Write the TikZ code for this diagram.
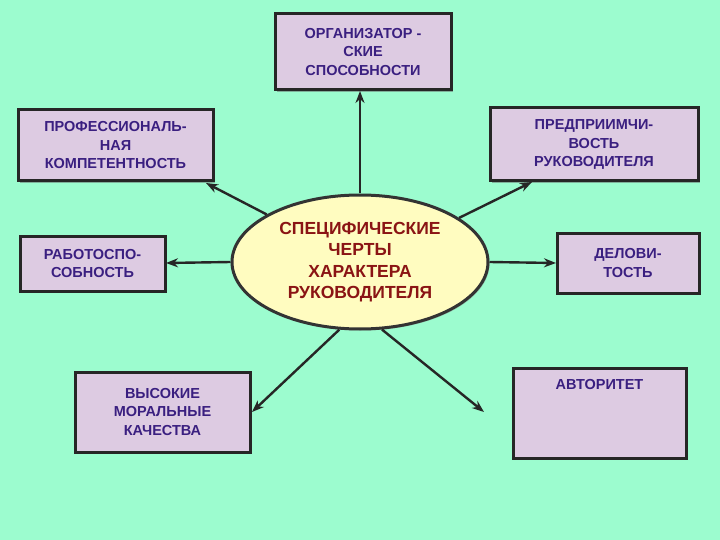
\documentclass[tikz,border=0pt]{standalone}
\usepackage{fontspec}
\setmainfont{Liberation Sans}
\usetikzlibrary{arrows.meta,shadows,shapes.geometric}
\definecolor{bg}{HTML}{9CFCCF}
\definecolor{boxf}{HTML}{DDCBE2}
\definecolor{elf}{HTML}{FFFCC0}
\definecolor{btxt}{HTML}{3A1F80}
\definecolor{etxt}{HTML}{8A1414}
\begin{document}
\begin{tikzpicture}[x=1pt,y=-1pt,
  box/.style={draw=black!85,line width=3pt,fill=boxf,minimum width=#1,align=center,
     font=\bfseries\fontsize{14.5}{18.5}\selectfont,text=btxt,inner sep=2pt,
     drop shadow={shadow xshift=2pt,shadow yshift=-2pt,fill=black!60}},
  arr/.style={-{Stealth[length=12pt,width=9pt]},line width=2.4pt,draw=black!85}]
\fill[bg] (0,0) rectangle (720,540);
\useasboundingbox (0,0) rectangle (720,540);
\node[draw=black!80,line width=3pt,fill=elf,ellipse,minimum width=256,minimum height=134,inner sep=0pt,
  font=\bfseries\fontsize{17.5}{21.5}\selectfont,text=etxt,align=center,
  drop shadow={shadow xshift=1.5pt,shadow yshift=-1.5pt,fill=black!50}] (e) at (360,262)
  {СПЕЦИФИЧЕСКИЕ\\ЧЕРТЫ\\ХАРАКТЕРА\\РУКОВОДИТЕЛЯ};
\node[box=176,minimum height=76] (b1) at (363,52) {ОРГАНИЗАТОР -\\СКИЕ\\СПОСОБНОСТИ};
\node[box=195,minimum height=71] (b2) at (115.5,145.5) {ПРОФЕССИОНАЛЬ-\\НАЯ\\КОМПЕТЕНТНОСТЬ};
\node[box=208,minimum height=73] (b3) at (594,144.5) {ПРЕДПРИИМЧИ-\\ВОСТЬ\\РУКОВОДИТЕЛЯ};
\node[box=145,minimum height=55] (b4) at (92.5,263.5) {РАБОТОСПО-\\СОБНОСТЬ};
\node[box=142,minimum height=60] (b5) at (628,263) {ДЕЛОВИ-\\ТОСТЬ};
\node[box=175,minimum height=80] (b6) at (162.5,412) {ВЫСОКИЕ\\МОРАЛЬНЫЕ\\КАЧЕСТВА};
\node[box=173,minimum height=90,text depth=58] (b7) at (599.5,413) {АВТОРИТЕТ};
\coordinate (t1) at (360,91);
\coordinate (t2) at (206,183);
\coordinate (t3) at (532,182);
\coordinate (t4) at (166,263);
\coordinate (t5) at (556,263);
\coordinate (t6) at (252,412);
\coordinate (t7) at (484,412);
\draw[arr] (e.north) -- (t1);
\draw[arr] (e.153) -- (t2);
\draw[arr] (e.24) -- (t3);
\draw[arr] (e.west) -- (t4);
\draw[arr] (e.east) -- (t5);
\draw[arr] (e.253) -- (t6);
\draw[arr] (e.288) -- (t7);
\end{tikzpicture}
\end{document}
